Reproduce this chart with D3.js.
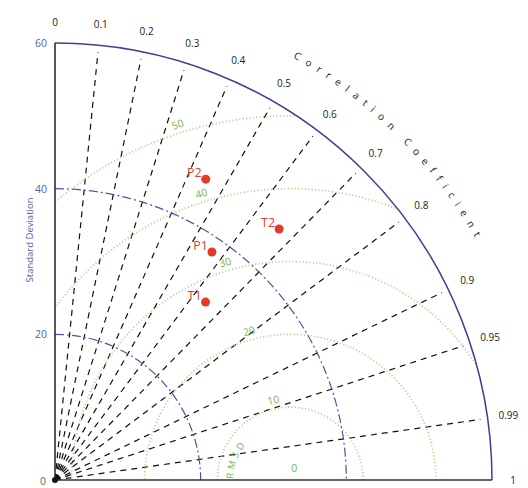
<!DOCTYPE html>
<html><head><meta charset="utf-8">
<script src="https://cdn.jsdelivr.net/npm/d3@7"></script>
<style>html,body{margin:0;padding:0;background:#fff;}svg{display:block;font-family:"Open Sans",sans-serif;}</style>
</head><body>
<svg id="c" width="528" height="488"></svg>
<script>
// ---- data ----
const corrTicks = [0, 0.1, 0.2, 0.3, 0.4, 0.5, 0.6, 0.7, 0.8, 0.9, 0.95, 0.99, 1];
const corrLines = [0.1, 0.2, 0.3, 0.4, 0.5, 0.6, 0.7, 0.8, 0.9, 0.95, 0.99];
const stdTicks = [0, 20, 40, 60];
const stdArcs = [20, 40];
const rmsdLevels = [0, 10, 20, 30, 40, 50];
const refStd = 32.3;
const names = ["T1", "T2", "P1", "P2"];
const stds = [32.0, 46.2, 38.0, 46.2];
const corrs = [0.646, 0.666, 0.567, 0.448];

// ---- layout ----
const svg = d3.select("#c");
const cx = 55, cy = 480, R = 437, maxStd = 60;
const r = d3.scaleLinear().domain([0, maxStd]).range([0, R]);
const xy = (s, c) => [cx + r(s) * c, cy - r(s) * Math.sqrt(Math.max(0, 1 - c * c))];
const blue = "#4c549e", green = "#a3cf78", greenTxt = "#7ab648", red = "#e5392b";

svg.append("rect").attr("width", 528).attr("height", 488).attr("fill", "#fff");

const defs = svg.append("defs");
defs.append("clipPath").attr("id", "quad").append("path")
  .attr("d", `M${cx},${cy}L${cx},${cy - R}A${R},${R} 0 0 1 ${cx + R},${cy}Z`);

// correlation lines
svg.append("g").selectAll("line").data(corrLines).join("line")
  .attr("x1", cx).attr("y1", cy)
  .attr("x2", d => xy(59, d)[0]).attr("y2", d => xy(59, d)[1])
  .attr("stroke", "#111").attr("stroke-width", 1.2).attr("stroke-dasharray", "6,5");

// RMSD contours
const refX = r(refStd);
const line = d3.line();
const gR = svg.append("g").attr("clip-path", "url(#quad)");
rmsdLevels.filter(k => k > 0).forEach(k => {
  const pts = d3.range(0, 180.5, 0.5).map(a => {
    const t = a * Math.PI / 180;
    return [cx + refX + r(k) * Math.cos(t), cy - r(k) * Math.sin(t)];
  });
  gR.append("path").attr("d", line(pts)).attr("fill", "none")
    .attr("stroke", green).attr("stroke-width", 1.7).attr("stroke-dasharray", "1,2.4");
});

// std arcs
stdArcs.forEach(s => {
  const p = d3.path(); p.arc(cx, cy, r(s), -Math.PI / 2, 0);
  svg.append("path").attr("d", p.toString()).attr("fill", "none")
    .attr("stroke", blue).attr("stroke-width", 1.2).attr("stroke-dasharray", "9,3,2,3");
});

// frame
const po = d3.path(); po.arc(cx, cy, R, -Math.PI / 2, 0);
svg.append("path").attr("d", po.toString()).attr("fill", "none").attr("stroke", "#3d4290").attr("stroke-width", 1.5);
svg.append("line").attr("x1", cx).attr("y1", cy - R).attr("x2", cx).attr("y2", cy).attr("stroke", "#222").attr("stroke-width", 1.5);
svg.append("line").attr("x1", cx).attr("y1", cy).attr("x2", cx + R).attr("y2", cy).attr("stroke", "#333").attr("stroke-width", 1.5);
svg.append("circle").attr("cx", cx).attr("cy", cy).attr("r", 3).attr("fill", "#111");

// std tick labels
svg.append("g").selectAll("text").data(stdTicks).join("text")
  .attr("x", d => d === 0 ? cx - 9 : cx - 8).attr("y", d => d === 0 ? cy + 1 : cy - r(d))
  .attr("text-anchor", "end").attr("dominant-baseline", "central")
  .attr("font-size", 10.5).attr("fill", d => d === 0 ? "#666" : "#5662a6").text(d => d);

svg.append("text").attr("transform", "translate(29,240) rotate(-90)")
  .attr("text-anchor", "middle").attr("dominant-baseline", "central")
  .attr("font-size", 9.5).attr("fill", "#5662a6").text("Standard Deviation");

// correlation tick labels
svg.append("g").selectAll("text").data(corrTicks).join("text")
  .attr("x", d => cx + (R + 21) * d)
  .attr("y", d => cy - (R + 21) * Math.sqrt(1 - d * d))
  .attr("text-anchor", "middle").attr("dominant-baseline", "central")
  .attr("font-size", 10).attr("fill", "#222").text(d => d);

// curved "Correlation Coefficient" (one glyph per text element)
{
  const title = "Correlation Coefficient";
  const rc = 485, startDeg = 60.6, spanDeg = 30.6;
  const gT = svg.append("g").attr("font-size", 10).attr("fill", "#222");
  const chars = title.split("");
  const widths = chars.map(ch => {
    const t = gT.append("text").text(ch === " " ? "\u00a0" : ch);
    const w = t.node().getComputedTextLength(); t.remove(); return w;
  });
  const target = rc * spanDeg * Math.PI / 180;
  const nat = d3.sum(widths);
  const sp = (target - nat) / (chars.length - 1);
  let s = 0;
  chars.forEach((ch, i) => {
    const mid = s + widths[i] / 2;
    s += widths[i] + sp;
    if (ch === " ") return;
    const th = startDeg - (mid / rc) * 180 / Math.PI;
    const t = th * Math.PI / 180;
    gT.append("text")
      .attr("transform", `translate(${cx + rc * Math.cos(t)},${cy - rc * Math.sin(t)}) rotate(${90 - th})`)
      .attr("text-anchor", "middle").text(ch);
  });
}

// RMSD labels
rmsdLevels.forEach(k => {
  let x, y, rot = 0;
  if (k === 0) { x = cx + refX + 4; y = cy - 12; }
  else {
    const a = (109 - 70 / k) * Math.PI / 180;
    x = cx + refX + (r(k) + 9) * Math.cos(a);
    y = cy - (r(k) + 9) * Math.sin(a);
    rot = -(109 - 70 / k - 90);
  }
  svg.append("text").attr("transform", `translate(${x},${y}) rotate(${rot})`)
    .attr("text-anchor", "middle").attr("dominant-baseline", "central")
    .attr("font-size", 10.5).attr("fill", greenTxt).text(k);
});
// curved "RMSD"
const rr = 57, b0 = 180 * Math.PI / 180, b1 = 100 * Math.PI / 180;
defs.append("path").attr("id", "rmArc")
  .attr("d", `M${cx + refX + rr * Math.cos(b0)},${cy - rr * Math.sin(b0)}A${rr},${rr} 0 0 1 ${cx + refX + rr * Math.cos(b1)},${cy - rr * Math.sin(b1)}`);
svg.append("text").attr("font-size", 9.5).attr("fill", greenTxt).attr("letter-spacing", 3.2)
  .append("textPath").attr("href", "#rmArc").attr("startOffset", 1).text("RMSD");

// points
const pts = names.map((n, i) => ({ n, p: xy(stds[i], corrs[i]) }));
svg.append("g").selectAll("circle").data(pts).join("circle")
  .attr("cx", d => d.p[0]).attr("cy", d => d.p[1]).attr("r", 4.5).attr("fill", red);
svg.append("g").selectAll("text").data(pts).join("text")
  .attr("x", d => d.p[0] - 4).attr("y", d => d.p[1] - 2)
  .attr("text-anchor", "end").attr("font-size", 12.5).attr("fill", "#e0402a").text(d => d.n);
</script>
</body></html>
